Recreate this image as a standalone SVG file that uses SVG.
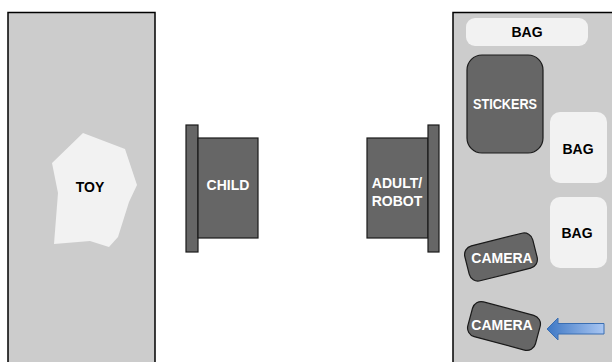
<svg xmlns="http://www.w3.org/2000/svg" width="612" height="362" viewBox="0 0 612 362">
<defs>
<style>
.panel{fill:#cccccc;stroke:#000;stroke-width:1.5}
.dark{fill:#666666;stroke:#1a1a1a;stroke-width:1.2}
.bag{fill:#f2f2f2}
.t{font-family:"Liberation Sans",Arial,sans-serif;font-weight:bold;font-size:14px;text-anchor:middle}
.w{fill:#ffffff}
.b{fill:#000000}
</style>
<linearGradient id="ag" x1="0" y1="0" x2="1" y2="0">
<stop offset="0" stop-color="#3d77c4"/>
<stop offset="1" stop-color="#a9c6f2"/>
</linearGradient>
</defs>
<rect width="612" height="362" fill="#ffffff"/>
<g id="left-panel">
<rect class="panel" x="8" y="12.5" width="147" height="360"/>
</g>
<g id="toy">
<polygon points="83,133 125,149 137,185 129,202 118,237 109,247 90,241 54,244 58,193 52,163" fill="#f2f2f2"/>
<text class="t b" x="90" y="192">TOY</text>
</g>
<g id="child">
<rect class="dark" x="186" y="125" width="12" height="127"/>
<rect class="dark" x="198" y="138" width="60" height="100"/>
<text class="t w" x="228" y="190">CHILD</text>
</g>
<g id="adult-robot">
<rect class="dark" x="367" y="138" width="61" height="100"/>
<rect class="dark" x="428" y="125" width="11" height="127"/>
<text class="t w" x="397" y="188">ADULT/</text>
<text class="t w" x="397" y="206">ROBOT</text>
</g>
<g id="right-panel">
<rect class="panel" x="453" y="12.5" width="170" height="360"/>
</g>
<g id="bag-top">
<rect class="bag" x="466" y="18" width="122" height="28" rx="9"/>
<text class="t b" x="527" y="37">BAG</text>
</g>
<g id="stickers">
<rect class="dark" x="467" y="55" width="76" height="98" rx="15"/>
<text class="t w" x="505" y="109" textLength="64" lengthAdjust="spacingAndGlyphs">STICKERS</text>
</g>
<g id="bag-mid">
<rect class="bag" x="550" y="112" width="57" height="71" rx="10"/>
<text class="t b" x="578" y="154">BAG</text>
</g>
<g id="bag-low">
<rect class="bag" x="550" y="197" width="57" height="71" rx="10"/>
<text class="t b" x="577" y="238">BAG</text>
</g>
<g id="camera-1">
<rect class="dark" x="-35" y="-18" width="70" height="36" rx="9" transform="translate(501,257) rotate(-14)"/>
<text class="t w" x="502" y="263">CAMERA</text>
</g>
<g id="camera-2">
<rect class="dark" x="-35" y="-18" width="70" height="36" rx="9" transform="translate(504,326) rotate(15)"/>
<text class="t w" x="502" y="330">CAMERA</text>
</g>
<g id="connectors">
<polygon points="547,329 558,318 558,323.5 604,323.5 604,334 558,334 558,340" fill="url(#ag)" stroke="#3a6eb2" stroke-width="1"/>
</g>
</svg>
